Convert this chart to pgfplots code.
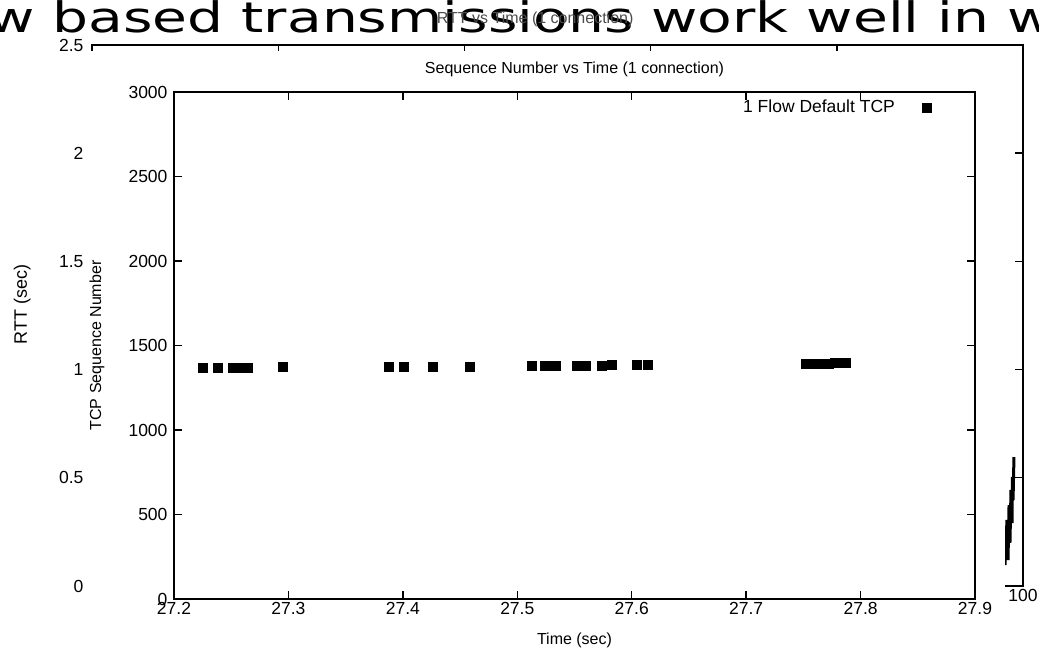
\documentclass[border=0pt]{standalone}
\usepackage{fontspec}
\setmainfont{Liberation Sans}
\newfontfamily\titlefont{DejaVu Sans}[FakeStretch=1.35]
\usepackage{pgfplots}
\pgfplotsset{compat=1.18}
\newcommand{\tickfont}{\fontsize{17.5}{20}\selectfont}
\newcommand{\labfont}{\fontsize{16}{19}\selectfont}
\begin{document}
\begin{tikzpicture}[x=1pt,y=1pt]
\useasboundingbox (0,0) rectangle (1039,650);
\clip (0,0) rectangle (1039,650);
% slide title, cut by the frame (behind the chart texts)
\node[anchor=base west, inner sep=0pt, font=\titlefont\fontsize{42}{46}\selectfont] at (-12,617) {w based transmissions work well in w};
% background chart (RTT vs Time)
\begin{axis}[at={(92pt,64pt)}, anchor=south west, scale only axis,
  width=931pt, height=541pt,
  xmin=0, xmax=100, ymin=0, ymax=2.5,
  xtick={0,20,40,60,80,100}, xticklabels={0,20,40,60,80,100},
  ytick={0,0.5,1,1.5,2,2.5}, yticklabels={0,0.5,1,1.5,2,2.5},
  tick align=inside, major tick length=8pt,
  axis line style={line width=1.5pt},
  every tick/.append style={line width=1.4pt, black},
  tick label style={font=\tickfont},
  yticklabel style={xshift=-5pt},
  title={RTT vs Time (1 connection)},
  title style={at={(axis description cs:0.476,1.037)}, anchor=center, yshift=0pt, font=\labfont, text=black!70},
  ylabel={RTT (sec)},
  ylabel style={at={(axis description cs:-0.075,0.52)}, anchor=center, font=\fontsize{18}{20}\selectfont},
]
\addplot[black, line width=3pt] coordinates {
 (98.07,0.097) (98.28,0.305) (98.39,0.120) (98.50,0.374) (98.60,0.199)
 (98.71,0.444) (98.82,0.291) (98.87,0.504) (98.93,0.397) (99.03,0.596)
};
\end{axis}
% overlay chart sits on a white sheet
\fill[white] (85,0) rectangle (1005,599);
\begin{axis}[at={(174pt,51pt)}, anchor=south west, scale only axis,
  width=801pt, height=507pt,
  xmin=27.2, xmax=27.9, ymin=0, ymax=3000,
  xtick={27.2,27.3,27.4,27.5,27.6,27.7,27.8,27.9},
  xticklabels={27.2,27.3,27.4,27.5,27.6,27.7,27.8,27.9},
  ytick={0,500,1000,1500,2000,2500,3000},
  yticklabels={0,500,1000,1500,2000,2500,3000},
  tick align=inside, major tick length=8pt,
  axis line style={line width=1.5pt},
  every tick/.append style={line width=1.4pt, black},
  tick label style={font=\tickfont},
  yticklabel style={xshift=-3pt},
  title={Sequence Number vs Time (1 connection)},
  title style={at={(axis description cs:0.5,1.032)}, anchor=center, yshift=0pt, font=\labfont},
  xlabel={Time (sec)},
  xlabel style={at={(axis description cs:0.5,-0.081)}, anchor=center, font=\labfont},
  ylabel={TCP Sequence Number},
  ylabel style={at={(axis description cs:-0.096,0.5)}, anchor=center, font=\labfont},
  legend plot pos=right,
  legend style={draw=none, fill=none, inner sep=0pt, at={(axis description cs:0.946,0.970)}, anchor=east, font=\tickfont},
  legend image code/.code={\path (0pt,0pt) (34pt,0pt); \draw[#1] plot coordinates {(30pt,0pt)};},
]
\addplot[only marks, mark=square*, mark size=4.5pt, black] coordinates {
 (27.2253,1368) (27.2385,1368) (27.2516,1369) (27.2603,1370) (27.2647,1371) (27.2953,1372)
 (27.388,1374) (27.401,1375) (27.4264,1375) (27.4587,1376)
 (27.5129,1378) (27.524,1378) (27.529,1379) (27.534,1380) (27.5523,1381) (27.5601,1382)
 (27.5741,1383) (27.5829,1384) (27.6047,1386) (27.6143,1387)
 (27.752,1391) (27.757,1392) (27.762,1393) (27.767,1394) (27.772,1395) (27.777,1396)
 (27.782,1397) (27.787,1398)
};
\addlegendentry{1 Flow Default TCP}
\end{axis}
\end{tikzpicture}
\end{document}
